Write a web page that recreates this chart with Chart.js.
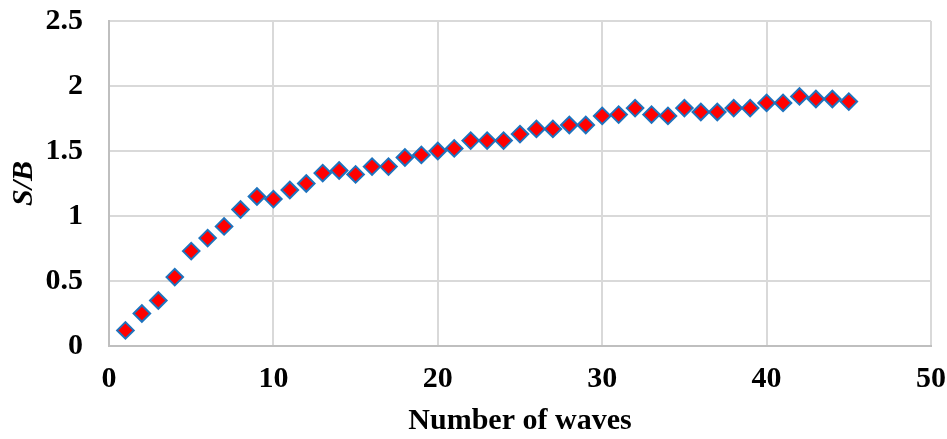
<!DOCTYPE html>
<html>
<head>
<meta charset="utf-8">
<title>S/B versus number of waves</title>
<script src="https://cdn.jsdelivr.net/npm/chart.js@4.4.1/dist/chart.umd.min.js"></script>
<style>
  html, body { margin: 0; padding: 0; background: #ffffff; }
  #wrap { width: 947px; height: 439px; position: relative; }
</style>
</head>
<body>
<div id="wrap"><canvas id="chart" width="947" height="439"></canvas></div>
<script>
// Number of waves (x) and the measured S/B ratio (y)
const waves = [
  1, 2, 3, 4, 5, 6, 7, 8, 9, 10,
  11, 12, 13, 14, 15, 16, 17, 18, 19, 20,
  21, 22, 23, 24, 25, 26, 27, 28, 29, 30,
  31, 32, 33, 34, 35, 36, 37, 38, 39, 40,
  41, 42, 43, 44, 45
];
const sbRatio = [
  0.12, 0.25, 0.35, 0.53, 0.73, 0.83, 0.92, 1.05, 1.15, 1.13,
  1.20, 1.25, 1.33, 1.35, 1.32, 1.38, 1.38, 1.45, 1.47, 1.50,
  1.52, 1.58, 1.58, 1.58, 1.63, 1.67, 1.67, 1.70, 1.70, 1.77,
  1.78, 1.83, 1.78, 1.77, 1.83, 1.80, 1.80, 1.83, 1.83, 1.87,
  1.87, 1.92, 1.90, 1.90, 1.88
];
const xTicks = [0, 10, 20, 30, 40, 50];
const yTicks = [0, 0.5, 1, 1.5, 2, 2.5];

const points = waves.map((w, i) => ({ x: w, y: sbRatio[i] }));

const serif = "'Liberation Serif', 'Times New Roman', serif";
const gridColor = '#D9D9D9';
const plainNumber = (v) => String(Number(v));

new Chart(document.getElementById('chart'), {
  type: 'scatter',
  data: {
    datasets: [{
      label: 'S/B',
      data: points,
      pointStyle: 'rectRot',
      pointRadius: 8.3,
      pointHoverRadius: 8.3,
      backgroundColor: '#FF0000',
      borderColor: '#1E73BE',
      borderWidth: 2,
      showLine: false
    }]
  },
  options: {
    responsive: false,
    animation: false,
    layout: { padding: { top: 21, right: 16, left: 0, bottom: 0 } },
    plugins: {
      legend: { display: false },
      tooltip: { enabled: false }
    },
    scales: {
      x: {
        type: 'linear',
        min: xTicks[0],
        max: xTicks[xTicks.length - 1],
        afterBuildTicks: (axis) => { axis.ticks = xTicks.map(v => ({ value: v })); },
        afterFit: (axis) => {
          axis.height = 93;
          axis.paddingLeft = 0;
          axis.paddingRight = 0;
        },
        grid: { color: gridColor, lineWidth: 2, drawTicks: false },
        border: { color: '#BFBFBF', width: 2 },
        ticks: {
          color: '#000000',
          padding: 15,
          callback: plainNumber,
          font: { family: serif, size: 30, weight: 'bold' }
        },
        title: {
          display: true,
          text: 'Number of waves',
          color: '#000000',
          padding: { top: 0, bottom: 0 },
          font: { family: serif, size: 30, weight: 'bold' }
        }
      },
      y: {
        type: 'linear',
        min: yTicks[0],
        max: yTicks[yTicks.length - 1],
        afterBuildTicks: (axis) => { axis.ticks = yTicks.map(v => ({ value: v })); },
        afterFit: (axis) => {
          axis.width = 109;
          axis.paddingTop = 0;
          axis.paddingBottom = 0;
        },
        grid: { color: gridColor, lineWidth: 2, drawTicks: false },
        border: { color: '#BFBFBF', width: 2 },
        ticks: {
          color: '#000000',
          padding: 26,
          callback: plainNumber,
          font: { family: serif, size: 30, weight: 'bold' }
        },
        title: {
          display: true,
          text: 'S/B',
          color: '#000000',
          padding: { top: 6, bottom: 0 },
          font: { family: serif, size: 30, weight: 'bold', style: 'italic' }
        }
      }
    }
  }
});
</script>
</body>
</html>
